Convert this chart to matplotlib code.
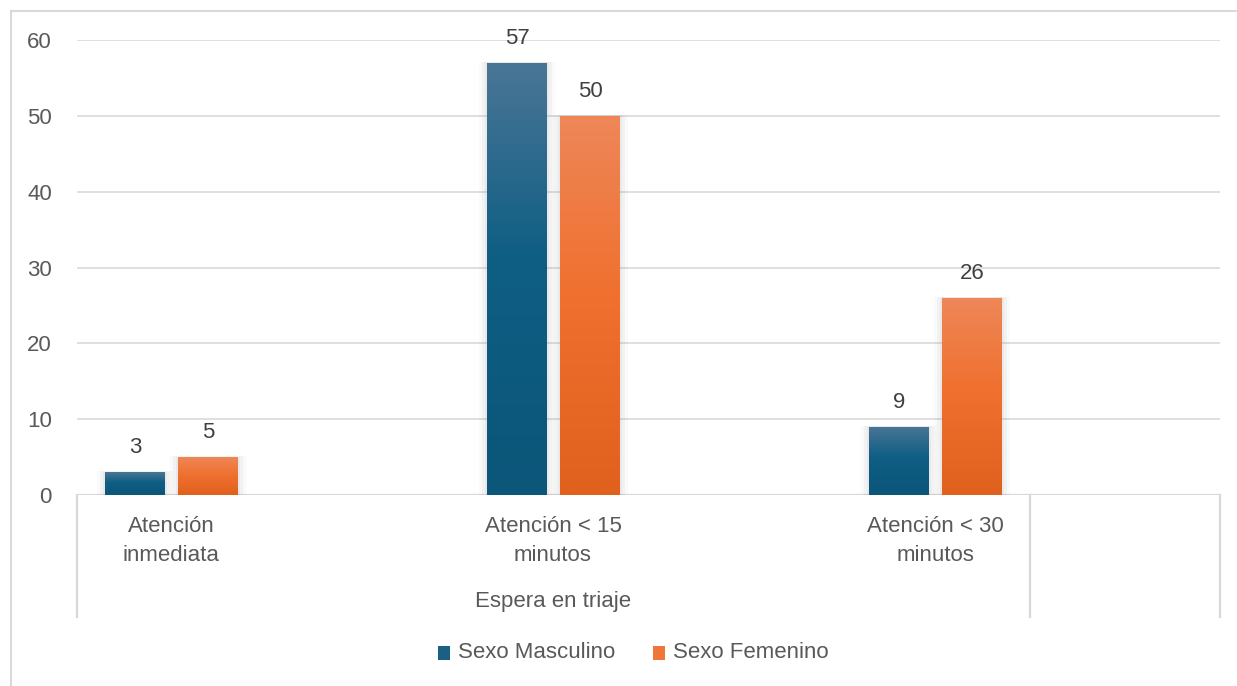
import matplotlib
matplotlib.use("Agg")
import matplotlib.pyplot as plt
import numpy as np
from matplotlib.patches import Rectangle
from matplotlib.colors import LinearSegmentedColormap
from matplotlib.lines import Line2D

categories = ["Atención\ninmediata", "Atención < 15\nminutos", "Atención < 30\nminutos"]
group_label = "Espera en triaje"
series_names = ["Sexo Masculino", "Sexo Femenino"]
masculino = [3, 57, 9]
femenino = [5, 50, 26]
yticks = [0, 10, 20, 30, 40, 50, 60]

plt.rcParams['font.family'] = ['Liberation Sans', 'DejaVu Sans']
FS = 16

W, H = 1237, 686
fig = plt.figure(figsize=(W / 100, H / 100), dpi=100)
fig.patch.set_facecolor("white")

def fx(px):
    return px / W

def fy(py):
    return 1 - py / H

ax_l, ax_r, ax_t, ax_b = 77, 1220, 40, 495
ax = fig.add_axes([fx(ax_l), fy(ax_b), fx(ax_r) - fx(ax_l), fy(ax_t) - fy(ax_b)])
x0, x1 = -0.246, 2.746
ax.set_xlim(x0, x1)
ax.set_ylim(0, 60)
for s in ax.spines.values():
    s.set_visible(False)
ax.set_yticks(yticks)
ax.set_yticklabels([str(v) for v in yticks], fontsize=FS, color="#595959")
ax.tick_params(axis="y", length=0, pad=18)
ax.set_xticks([])
ax.grid(axis="y", color="#d9d9d9", linewidth=1.2)
ax.set_axisbelow(True)
ax.axhline(0, color="#d9d9d9", linewidth=1.6, zorder=1)

blue_cmap = LinearSegmentedColormap.from_list(
    "b", [(0, "#4a7696"), (0.45, "#0f5e84"), (1, "#0b5679")])
orange_cmap = LinearSegmentedColormap.from_list(
    "o", [(0, "#ee8759"), (0.45, "#f07130"), (1, "#e0601d")])

width = 0.157
offsets = [-0.094, 0.097]
grad = np.linspace(0, 1, 256).reshape(-1, 1)

for vals, off, cmap in [(masculino, offsets[0], blue_cmap), (femenino, offsets[1], orange_cmap)]:
    for i, v in enumerate(vals):
        xc = i + off
        xl = xc - width / 2
        # soft glow
        for k, a in [(0.020, 0.04), (0.013, 0.06), (0.006, 0.08)]:
            ax.add_patch(Rectangle((xl - k, 0), width + 2 * k, v + k * 8,
                                   facecolor="#808080", alpha=a, edgecolor="none", zorder=2))
        rect = Rectangle((xl, 0), width, v, facecolor="none", edgecolor="none", zorder=3)
        ax.add_patch(rect)
        im = ax.imshow(grad, cmap=cmap, aspect="auto", extent=(xl, xl + width, 0, v),
                       origin="upper", zorder=3)
        im.set_clip_path(rect)
        ax.annotate(str(v), (xc, v), xytext=(0, 17.5), textcoords="offset points",
                    ha="center", va="center", fontsize=FS, color="#404040")

ax.set_xlim(x0, x1)
ax.set_ylim(0, 60)

# category axis area (multi-level)
lc = "#d9d9d9"
def vline(px, top, bot):
    fig.add_artist(Line2D([fx(px), fx(px)], [fy(top), fy(bot)], color=lc, linewidth=1.6))

vline(ax_l, ax_b, 617)
vline(1030, ax_b, 617)
vline(ax_r, ax_b, 617)

def px_of(xd):
    return ax_l + (xd - x0) / (x1 - x0) * (ax_r - ax_l)

for i, c in enumerate(categories):
    fig.text(fx(px_of(i)), fy(541), c, ha="center", va="center", fontsize=FS,
             color="#595959", linespacing=1.5)
fig.text(fx(553), fy(601), group_label, ha="center", va="center", fontsize=FS, color="#595959")

# outer frame (top and left)
fig.add_artist(Line2D([fx(11), 1], [fy(11), fy(11)], color="#d9d9d9", linewidth=1.5))
fig.add_artist(Line2D([fx(11), fx(11)], [fy(11), 0], color="#d9d9d9", linewidth=1.5))

# legend
leg_items = [(438, "#1b5f85", series_names[0]), (653, "#ef7538", series_names[1])]
for px, col, name in leg_items:
    fig.add_artist(Rectangle((fx(px), fy(660)), fx(12), fy(646) - fy(660),
                             facecolor=col, edgecolor="none", transform=fig.transFigure))
    fig.text(fx(px + 20), fy(653), name, ha="left", va="center", fontsize=FS, color="#595959")

fig.savefig("out.png", dpi=100)
